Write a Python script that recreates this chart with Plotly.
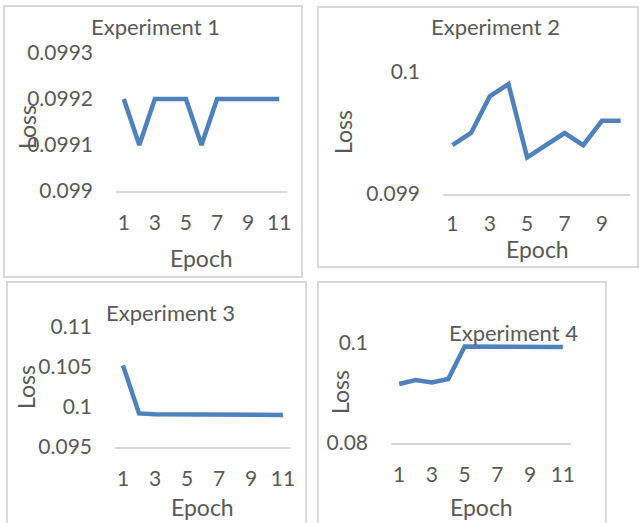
import plotly.graph_objects as go

W, H = 639, 523

epochs_11 = list(range(1, 12))
epochs_10 = list(range(1, 11))

exp1_loss = [0.0992, 0.0991, 0.0992, 0.0992, 0.0992, 0.0991, 0.0992, 0.0992, 0.0992, 0.0992, 0.0992]
exp2_loss = [0.0994, 0.0995, 0.0998, 0.0999, 0.0993, 0.0994, 0.0995, 0.0994, 0.0996, 0.0996]
exp3_loss = [0.1052, 0.0992, 0.0991, 0.0991, 0.0990, 0.0990, 0.0990, 0.0990, 0.0990, 0.0990, 0.0990]
exp4_loss = [0.0918, 0.0926, 0.0921, 0.0928, 0.0993, 0.0993, 0.0992, 0.0992, 0.0993, 0.0992, 0.0992]

titles = ["Experiment 1", "Experiment 2", "Experiment 3", "Experiment 4"]
x_ticks_11 = [1, 3, 5, 7, 9, 11]
x_ticks_10 = [1, 3, 5, 7, 9]

LINE = "#4F81BD"
TXT = "#595959"
BORDER = "#D9D9D9"
FONT = "Lato, Open Sans, sans-serif"
FS = 21
FS_TITLE = 22
FS_AX = 23


def px(x):
    return x / W


def py(y):
    return 1 - y / H


panels = [
    dict(x=epochs_11, y=exp1_loss, xdom=(116, 287), ydom=(191, 53), yr=(0.099, 0.0993), dt=0.0001,
         xr=(0.5, 11.5), xt=x_ticks_11, xso=12,
         title=(155, 27), epoch=(201, 258), loss=(27, 127),
         box=(4, 6, 302, 277)),
    dict(x=epochs_10, y=exp2_loss, xdom=(443, 630), ydom=(194, 72), yr=(0.099, 0.1), dt=0.001,
         xr=(0.5, 10.5), xt=x_ticks_10, xso=10,
         title=(495, 27), epoch=(537, 249), loss=(343, 132),
         box=(318, 7, 638, 267)),
    dict(x=epochs_11, y=exp3_loss, xdom=(115, 291), ydom=(447, 327), yr=(0.095, 0.11), dt=0.005,
         xr=(0.5, 11.5), xt=x_ticks_11, xso=12,
         title=(170, 312), epoch=(203, 507), loss=(26, 387),
         box=(7, 282, 306, 530)),
    dict(x=epochs_11, y=exp4_loss, xdom=(391, 571), ydom=(443, 343), yr=(0.08, 0.1), dt=0.02,
         xr=(0.5, 11.5), xt=x_ticks_11, xso=12,
         title=(513, 332), epoch=(481, 507), loss=(340, 392),
         box=(318, 282, 606, 530)),
]

fig = go.Figure()
annotations = []
shapes = []

for i, p in enumerate(panels):
    n = i + 1
    xa = "x" if n == 1 else f"x{n}"
    ya = "y" if n == 1 else f"y{n}"
    fig.add_trace(go.Scatter(x=p["x"], y=p["y"], mode="lines",
                             line=dict(color=LINE, width=4.5), xaxis=xa, yaxis=ya,
                             showlegend=False, hoverinfo="skip"))
    xkey = "xaxis" if n == 1 else f"xaxis{n}"
    ykey = "yaxis" if n == 1 else f"yaxis{n}"
    fig.update_layout(**{
        xkey: dict(domain=[px(p["xdom"][0]), px(p["xdom"][1])], range=list(p["xr"]),
                   anchor=ya, tickvals=p["xt"], ticktext=[str(v) for v in p["xt"]],
                   showgrid=False, zeroline=False, showline=True, linecolor=BORDER, linewidth=1.5,
                   ticks="", ticklabelstandoff=p["xso"], automargin=False,
                   tickfont=dict(family=FONT, size=FS, color=TXT)),
        ykey: dict(domain=[py(p["ydom"][0]), py(p["ydom"][1])], range=list(p["yr"]),
                   anchor=xa, dtick=p["dt"], tick0=p["yr"][0],
                   showgrid=False, zeroline=False, showline=False, ticks="",
                   ticklabelstandoff=22, tickformat="~g", automargin=False,
                   tickfont=dict(family=FONT, size=FS, color=TXT)),
    })
    annotations.append(dict(text=titles[i], x=px(p["title"][0]), y=py(p["title"][1]),
                            xref="paper", yref="paper", showarrow=False,
                            xanchor="center", yanchor="middle",
                            font=dict(family=FONT, size=FS_TITLE, color=TXT)))
    annotations.append(dict(text="Epoch", x=px(p["epoch"][0]), y=py(p["epoch"][1]),
                            xref="paper", yref="paper", showarrow=False,
                            xanchor="center", yanchor="middle",
                            font=dict(family=FONT, size=FS_AX, color=TXT)))
    annotations.append(dict(text="Loss", x=px(p["loss"][0]), y=py(p["loss"][1]),
                            xref="paper", yref="paper", showarrow=False, textangle=-90,
                            xanchor="center", yanchor="middle",
                            font=dict(family=FONT, size=FS_AX, color=TXT)))
    b = p["box"]
    shapes.append(dict(type="rect", xref="paper", yref="paper",
                       x0=px(b[0]), x1=px(b[2]), y0=py(b[3]), y1=py(b[1]),
                       line=dict(color=BORDER, width=2), fillcolor="rgba(0,0,0,0)",
                       layer="below"))

fig.update_layout(template="none", width=W, height=H,
                  margin=dict(l=0, r=0, t=0, b=0, pad=0, autoexpand=False),
                  paper_bgcolor="white", plot_bgcolor="white",
                  annotations=annotations, shapes=shapes,
                  font=dict(family=FONT, color=TXT))

fig.write_html("out.html")
